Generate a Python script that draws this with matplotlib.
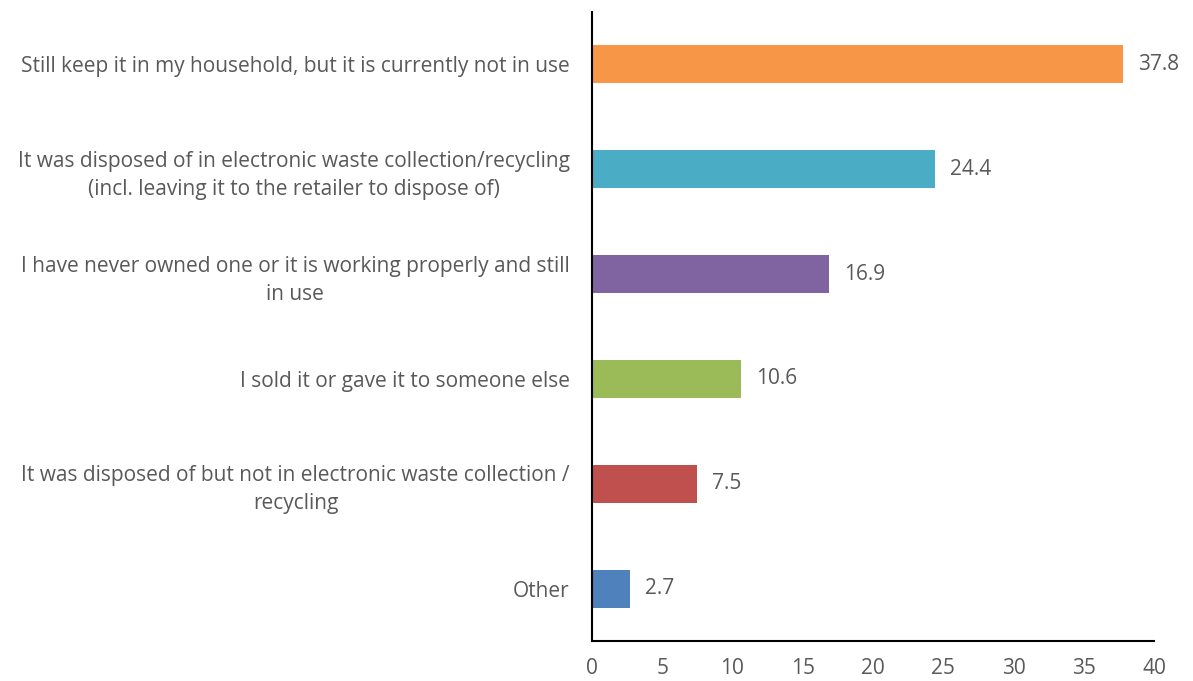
import matplotlib
matplotlib.use("Agg")
import matplotlib.pyplot as plt

categories = [
    "Still keep it in my household, but it is currently not in use",
    "It was disposed of in electronic waste collection/recycling\n(incl. leaving it to the retailer to dispose of)",
    "I have never owned one or it is working properly and still\nin use",
    "I sold it or gave it to someone else",
    "It was disposed of but not in electronic waste collection /\nrecycling",
    "Other",
]
values = [37.8, 24.4, 16.9, 10.6, 7.5, 2.7]
colors = ["#F79646", "#4BACC6", "#8064A2", "#9BBB59", "#C0504D", "#4F81BD"]
xticks = [0, 5, 10, 15, 20, 25, 30, 35, 40]

plt.rcParams["font.family"] = ["Open Sans", "DejaVu Sans"]
text_color = "#595959"
fs = 15

fig = plt.figure(figsize=(11.93, 6.81), dpi=100)
ax = fig.add_axes([592 / 1193, 1 - 641 / 681, (1154 - 592) / 1193, (641 - 12) / 681])

ypos = list(range(len(categories)))
ax.barh(ypos, values, height=0.363, color=colors)
for y, v in zip(ypos, values):
    ax.text(v + 1.05, y, f"{v}", va="center", ha="left", fontsize=fs, color=text_color)

ax.set_ylim(len(categories) - 0.5, -0.5)
ax.set_xlim(0, 40)
ax.set_yticks(ypos)
ax.set_yticklabels(categories, fontsize=fs, color=text_color, ha="right",
                   multialignment="center", linespacing=1.45)
ax.set_xticks(xticks)
ax.set_xticklabels([str(t) for t in xticks], fontsize=fs, color=text_color)
ax.tick_params(axis="both", length=0)
ax.tick_params(axis="y", pad=16)
ax.tick_params(axis="x", pad=12)

for side in ("top", "right"):
    ax.spines[side].set_visible(False)
for side in ("left", "bottom"):
    ax.spines[side].set_linewidth(1.5)
    ax.spines[side].set_color("black")

fig.savefig("out.png", dpi=100, facecolor="white")
